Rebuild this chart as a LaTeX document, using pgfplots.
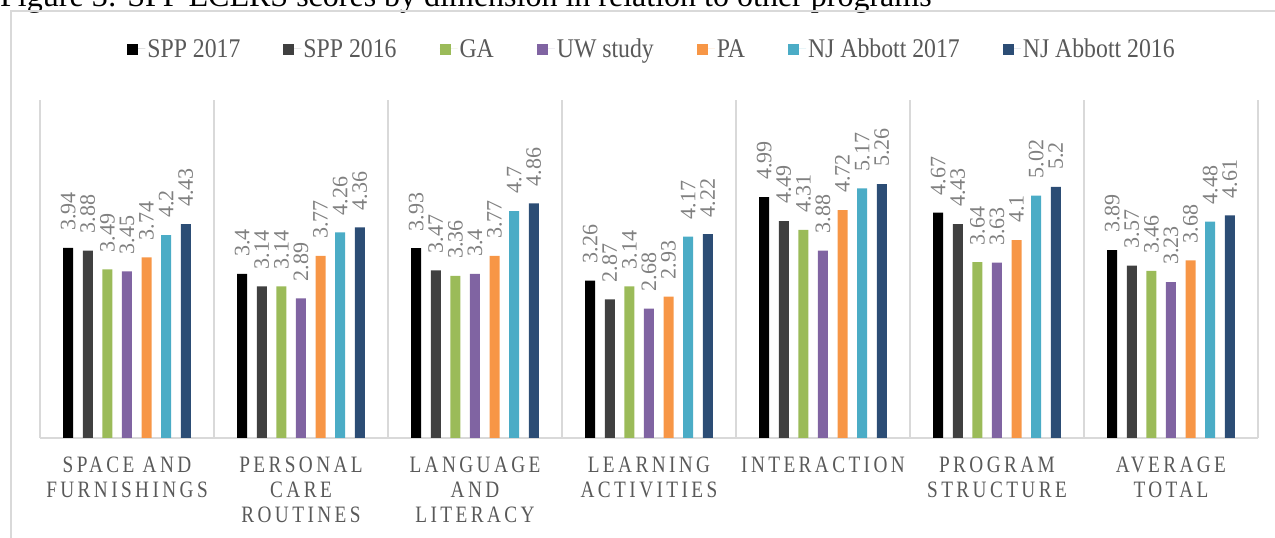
\documentclass[border=0pt]{standalone}
\usepackage{pgfplots}
\pgfplotsset{compat=1.18}
\usepackage{fontspec}
\setmainfont{Liberation Serif}
\newfontfamily\legfont{Liberation Serif}[FakeStretch=0.88]
\newfontfamily\catfont{Liberation Serif}[FakeStretch=0.82,LetterSpace=14.5]

\definecolor{cSPPa}{HTML}{000000}
\definecolor{cSPPb}{HTML}{404040}
\definecolor{cGA}{HTML}{9BBB59}
\definecolor{cUW}{HTML}{8064A2}
\definecolor{cPA}{HTML}{F79646}
\definecolor{cNJa}{HTML}{4BACC6}
\definecolor{cNJb}{HTML}{2C4D75}
\definecolor{framegray}{HTML}{D9D9D9}
\definecolor{txtgray}{HTML}{595959}
\definecolor{lblgray}{HTML}{808080}

\pgfplotsset{
  sq/.style={fill=#1, draw=none,
    legend image code/.code={\path (0pt,0pt) -- (18pt,0pt);
      \fill[#1] (0pt,-6pt) rectangle (11pt,5pt);}},
}

\begin{document}
\begin{tikzpicture}[x=1pt,y=1pt]
% caption, cut off by the page edge
\node[anchor=base west, inner sep=0pt, font=\fontsize{32}{36}\selectfont] at (0,531)
  {Figure 3: SPP ECERS scores by dimension in relation to other programs};
% chart frame
\draw[framegray, line width=1.5pt] (11,-30) -- (11,527) -- (1300,527);

\begin{axis}[
  at={(40pt,100pt)}, anchor=south west,
  scale only axis, width=1218pt, height=338pt,
  ybar=9.6pt, bar width=10pt,
  xmin=-0.5, xmax=6.5, ymin=0, ymax=7,
  enlarge x limits=false, enlarge y limits=false,
  axis x line*=bottom, axis y line=none,
  x axis line style={framegray, line width=2pt},
  xtick={0,...,6},
  xticklabels={{SPACE AND\\FURNISHINGS},{PERSONAL\\CARE\\ROUTINES},
    {LANGUAGE\\AND\\LITERACY},{LEARNING\\ACTIVITIES},{INTERACTION},
    {PROGRAM\\STRUCTURE},{AVERAGE\\TOTAL}},
  major tick length=0pt, minor tick length=0pt,
  minor xtick={-0.5,0.5,...,6.5},
  xminorgrids, minor grid style={framegray, line width=1.5pt},
  ytick=\empty,
  x tick label style={font=\catfont\fontsize{23.5}{24.7}\selectfont, text=txtgray,
    align=center, anchor=north, inner sep=0pt, yshift=-19pt},
  /pgf/number format/assume math mode=true,
  nodes near coords,
  every node near coord/.append style={font=\fontsize{22}{24}\selectfont,
    text=lblgray, rotate=90, anchor=west, inner xsep=17pt, inner ysep=0pt},
  legend columns=7,
  legend style={at={(0.5025,1.151)}, anchor=center, draw=none, fill=none,
    font=\legfont\fontsize{27}{30}\selectfont, text=txtgray,
    /tikz/every even column/.append style={column sep=41pt}},
]
\addplot[sq=cSPPa] coordinates {(0,3.94) (1,3.4) (2,3.93) (3,3.26) (4,4.99) (5,4.67) (6,3.89)};
\addlegendentry{SPP 2017}
\addplot[sq=cSPPb] coordinates {(0,3.88) (1,3.14) (2,3.47) (3,2.87) (4,4.49) (5,4.43) (6,3.57)};
\addlegendentry{SPP 2016}
\addplot[sq=cGA] coordinates {(0,3.49) (1,3.14) (2,3.36) (3,3.14) (4,4.31) (5,3.64) (6,3.46)};
\addlegendentry{GA}
\addplot[sq=cUW] coordinates {(0,3.45) (1,2.89) (2,3.4) (3,2.68) (4,3.88) (5,3.63) (6,3.23)};
\addlegendentry{UW study}
\addplot[sq=cPA] coordinates {(0,3.74) (1,3.77) (2,3.77) (3,2.93) (4,4.72) (5,4.1) (6,3.68)};
\addlegendentry{PA}
\addplot[sq=cNJa] coordinates {(0,4.2) (1,4.26) (2,4.7) (3,4.17) (4,5.17) (5,5.02) (6,4.48)};
\addlegendentry{NJ Abbott 2017}
\addplot[sq=cNJb] coordinates {(0,4.43) (1,4.36) (2,4.86) (3,4.22) (4,5.26) (5,5.2) (6,4.61)};
\addlegendentry{NJ Abbott 2016}
\end{axis}
\pgfresetboundingbox
\useasboundingbox (0,0) rectangle (1275,538);
\end{tikzpicture}
\end{document}
